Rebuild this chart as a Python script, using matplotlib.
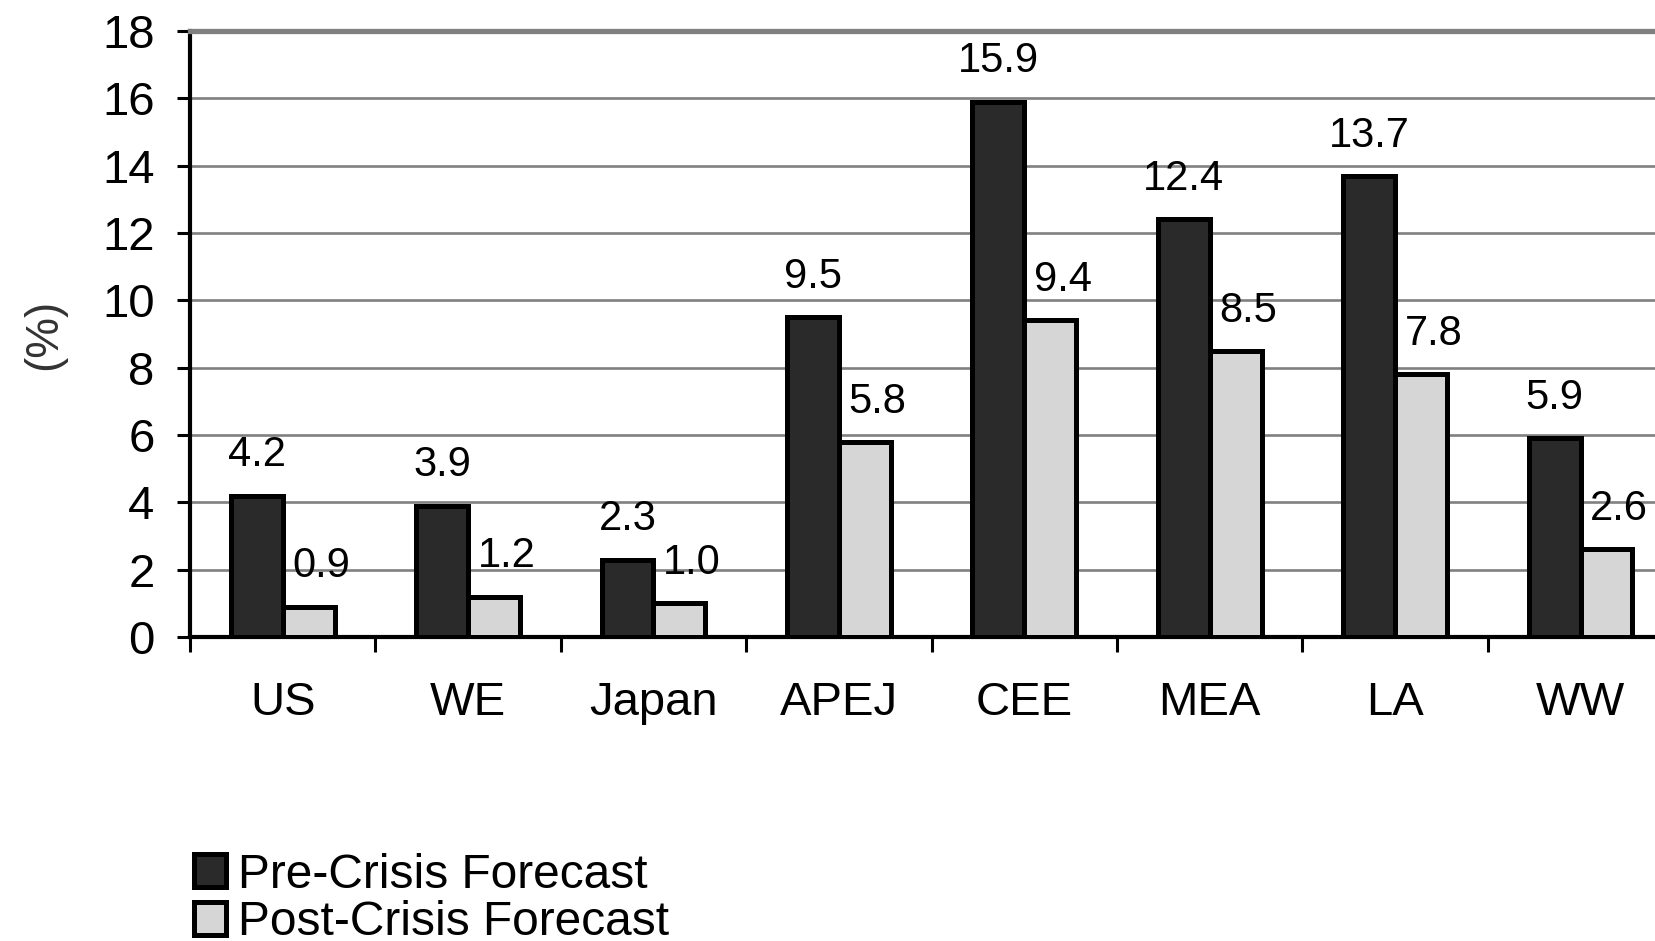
import numpy as np
import matplotlib.pyplot as plt
from matplotlib.ticker import MultipleLocator, FixedLocator

plt.rcParams['font.family'] = ['Liberation Sans', 'DejaVu Sans']

regions = ['US', 'WE', 'Japan', 'APEJ', 'CEE', 'MEA', 'LA', 'WW']
pre_crisis = [4.2, 3.9, 2.3, 9.5, 15.9, 12.4, 13.7, 5.9]
post_crisis = [0.9, 1.2, 1.0, 5.8, 9.4, 8.5, 7.8, 2.6]
series_names = ['Pre-Crisis Forecast', 'Post-Crisis Forecast']

dark = '#2a2a2a'
light = '#d6d6d6'
grid_gray = '#808080'
bar_w = 0.28

fig = plt.figure(figsize=(16.56, 9.41), dpi=100)
# plot area runs a bit past the right edge of the canvas
ax = fig.add_axes([0.1147, 0.3231, 0.8957, 0.644])

x = np.arange(len(regions))
b1 = ax.bar(x - bar_w/2, pre_crisis, bar_w, color=dark, edgecolor='black',
            linewidth=3.6, zorder=3, label=series_names[0])
b2 = ax.bar(x + bar_w/2, post_crisis, bar_w, color=light, edgecolor='black',
            linewidth=3.6, zorder=3, label=series_names[1])

for rect, v in zip(b1, pre_crisis):
    ax.annotate(f'{v:.1f}', (rect.get_x() + rect.get_width()/2, v),
                xytext=(0, 21), textcoords='offset points',
                ha='center', va='baseline', fontsize=30, zorder=4)
for rect, v in zip(b2, post_crisis):
    ax.annotate(f'{v:.1f}', (rect.get_x() + rect.get_width()/2, v),
                xytext=(9, 21), textcoords='offset points',
                ha='center', va='baseline', fontsize=30, zorder=4)

ax.set_xlim(-0.5, len(regions) - 0.5)
ax.set_ylim(0, 18)
ax.yaxis.set_major_locator(MultipleLocator(2))
ax.yaxis.grid(True, color=grid_gray, linewidth=1.9, zorder=0)
ax.set_axisbelow(True)

ax.set_xticks(x)
ax.set_xticklabels(regions, fontsize=34)
ax.xaxis.set_minor_locator(FixedLocator(np.arange(len(regions) + 1) - 0.5))
ax.tick_params(axis='x', which='major', length=0, pad=32)
ax.tick_params(axis='x', which='minor', length=11, width=2.2, direction='out', color='black')
ax.tick_params(axis='y', labelsize=34, length=9.5, width=2.2, direction='out', pad=16, color='black')

for side in ['left', 'bottom']:
    ax.spines[side].set_color('black')
    ax.spines[side].set_linewidth(3)
ax.spines['top'].set_color(grid_gray)
ax.spines['top'].set_linewidth(3.8)
ax.spines['right'].set_visible(False)

ax.set_ylabel('(%)', fontsize=33, color='#333333', labelpad=26)

fig.legend(handles=[b1, b2], loc='upper left', bbox_to_anchor=(0.117, 0.094),
           frameon=False, fontsize=34.5, borderpad=0, borderaxespad=0,
           handlelength=0.68, handleheight=0.68, handletextpad=0.25,
           labelspacing=0.05)

fig.savefig('out.png', dpi=100)
